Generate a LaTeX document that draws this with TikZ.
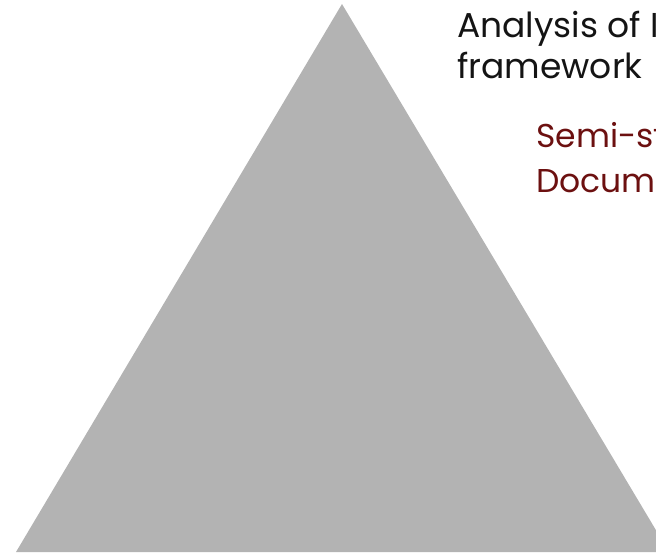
\documentclass[tikz,border=0pt]{standalone}
\usepackage{fontspec}
\setmainfont{Poppins}
\definecolor{trigray}{RGB}{179,179,179}
\definecolor{darkred}{RGB}{108,16,16}
\definecolor{txtblack}{RGB}{20,20,20}
\begin{document}
\begin{tikzpicture}[x=1pt,y=-1pt,
  lbl/.style={inner sep=0pt,anchor=base west},
  blk/.style={lbl,text=txtblack,font=\fontsize{34.5}{40}\selectfont},
  red/.style={lbl,text=darkred,font=\fontsize{33}{40}\selectfont}]
\useasboundingbox (0,0) rectangle (656,554);
\clip (0,0) rectangle (656,554);
\coordinate (apex) at (342,4);
\coordinate (bl) at (16,552);
\coordinate (br) at (669,552);
\fill[trigray] (apex) -- (bl) -- (br) -- cycle;
\node[blk] (t1) at (457,37) {Analysis of I};
\node[blk] (t2) at (457,78) {framework};
\node[red] (t3) at (536,147) {Semi-st};
\node[red] (t4) at (536,192) {Docum};
\end{tikzpicture}
\end{document}
